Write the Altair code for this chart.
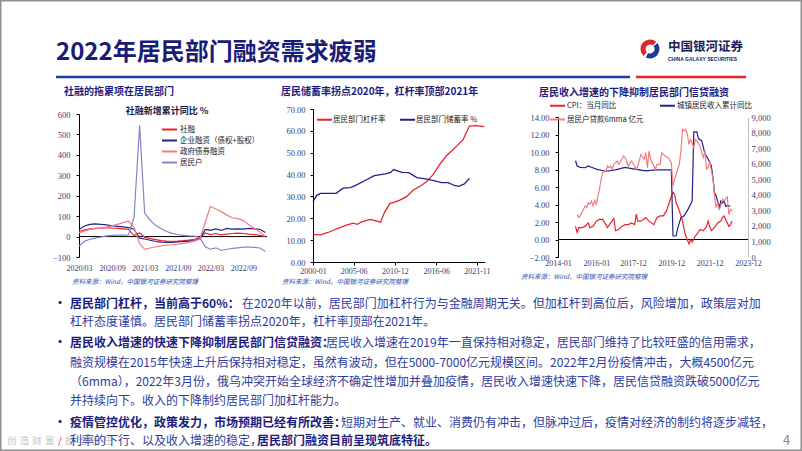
import altair as alt
import pandas as pd

CJK = "Noto Sans CJK SC"
AXF = "Liberation Serif"
AXC = "#3b3b6b"
NAVY = "#1c1c80"
REG = "#2d3c9e"
RED = "#e8232b"
DNAVY = "#22228a"
PINK = "#f27c80"
LAV = "#8585c8"
LINE_SYMBOL = "M-1.36,0H1.36"

# ---------------- chart 1 data: 社融新增累计同比 % ----------------
c1_names = ["社融", "企业融资（债权+股权）", "政府债券融资", "居民户"]
c1_colors = [RED, DNAVY, PINK, LAV]
c1_dates = pd.date_range("2020-03-01", "2023-01-01", freq="MS").strftime("%Y/%m/%d").tolist()
c1_shehui = [25, 33, 38, 40, 42, 43, 42, 40, 38, 35, 5, 18, -3, -10, -15, -20, -22, -23, -22, -20,
             -17, -13, -8, 18, 10, 15, 8, 12, 15, 17, 15, 12, 10, 6, 0]
c1_qiye = [35, 52, 60, 62, 60, 57, 53, 50, 47, 44, 36, -8, -12, -18, -24, -27, -28, -28, -26, -24,
           -22, -20, -12, 35, 30, 38, 30, 40, 36, 38, 36, 40, 38, 36, 20]
c1_zhengfu = [18, 28, 35, 40, 42, 46, 52, 60, 68, 76, 45, -35, -63, -56, -50, -46, -42, -40, -37, -33,
              -28, -22, -12, 70, 147, 135, 122, 105, 92, 88, 78, 58, 40, 22, 2]
c1_jumin = [-46, -22, -13, -8, -2, 3, 6, 7, 7, 8, 95, 545, 115, 80, 55, 38, 25, 16, 10, 6,
            3, 2, -5, -50, -62, -55, -68, -62, -58, -55, -52, -51, -53, -56, -72]
c1_xticks = [(2020, 3), (2020, 9), (2021, 3), (2021, 9), (2022, 3), (2022, 9)]
c1_yticks = [-100, 0, 100, 200, 300, 400, 500, 600]

# ---------------- chart 2 data ----------------
c2_names = ["居民部门杠杆率", "居民部门储蓄率 %"]
c2_colors = [RED, DNAVY]
c2_lev_dates = ["2000/01/01", "2001/01/01", "2002/01/01", "2003/03/01", "2004/04/01", "2005/05/01",
                "2005/12/01", "2006/06/01", "2007/08/01", "2008/04/01", "2009/01/01", "2009/07/01",
                "2010/04/01", "2010/11/01", "2011/07/01", "2012/06/01", "2013/05/01", "2014/06/01",
                "2015/03/01", "2016/01/01", "2016/11/01", "2017/10/01", "2018/11/01", "2020/01/01",
                "2020/11/01", "2021/10/01", "2022/11/01"]
c2_lev = [12.5, 12.4, 13.5, 15.2, 16.6, 17.8, 17.2, 18.2, 19.5, 18.9, 18.2, 22.5, 26.8, 27.4, 28.2,
          29.8, 32.8, 35.0, 36.8, 40.0, 44.4, 48.5, 52.0, 56.0, 62.2, 62.4, 61.9]
c2_sav_dates = ["2000/01/01", "2000/07/01", "2001/01/01", "2002/01/01", "2003/02/01", "2004/01/01",
                "2005/01/01", "2005/10/01", "2007/01/01", "2008/03/01", "2009/09/01", "2010/05/01",
                "2010/10/01", "2011/11/01", "2012/10/01", "2013/11/01", "2015/01/01", "2016/04/01",
                "2017/02/01", "2018/01/01", "2018/11/01", "2019/06/01", "2020/03/01", "2020/11/01"]
c2_sav = [27.6, 30.5, 31.4, 31.4, 31.4, 33.8, 34.0, 35.2, 37.4, 39.5, 40.3, 41.0, 42.3, 41.0, 40.9,
          38.6, 38.0, 37.1, 36.3, 36.3, 35.0, 34.6, 35.7, 38.3]
c2_xticks = [(2000, 1), (2005, 6), (2010, 12), (2016, 6), (2021, 11)]
c2_yticks = [0, 10, 20, 30, 40, 50, 60, 70]

# ---------------- chart 3 data ----------------
c3_names = ["CPI：当月同比", "城镇居民收入累计同比", "居民户贷款6mma 亿元"]
c3_colors = [RED, DNAVY, PINK]
c3_cpi_dates = ["2014/12", "2015/01", "2015/02", "2015/04", "2015/06", "2015/08", "2015/09", "2015/11",
                "2016/01", "2016/03", "2016/05", "2016/07", "2016/08", "2016/10", "2016/12", "2017/01",
                "2017/03", "2017/05", "2017/07", "2017/09", "2017/11", "2018/01", "2018/02", "2018/03",
                "2018/05", "2018/08", "2018/10", "2019/01", "2019/03", "2019/05", "2019/07", "2019/09",
                "2019/11", "2020/01", "2020/02", "2020/03", "2020/05", "2020/06", "2020/07", "2020/08",
                "2020/09", "2020/11", "2020/12", "2021/01", "2021/03", "2021/04", "2021/06", "2021/08",
                "2021/10", "2021/11", "2021/12", "2022/01", "2022/03", "2022/05", "2022/07", "2022/08",
                "2022/09", "2022/10", "2022/11", "2022/12", "2023/01", "2023/02"]
c3_cpi = [1.5, 0.8, 1.35, 1.35, 1.5, 1.9, 1.35, 1.5, 2.1, 2.3, 2.3, 1.7, 1.35, 1.9, 2.4, 1.0,
          1.15, 1.5, 1.7, 1.7, 1.9, 1.7, 2.9, 2.1, 2.1, 2.5, 2.1, 1.7, 2.5, 2.7, 2.7, 3.3,
          4.4, 5.4, 5.2, 4.2, 3.3, 2.7, 2.1, 1.15, 0.4, -0.5, 0.0, -0.3, 0.4, 0.6, 1.15, 1.0,
          1.5, 2.1, 1.5, 1.0, 1.35, 1.9, 2.1, 2.5, 2.7, 2.3, 1.9, 1.5, 1.7, 2.1]
c3_inc_dates = ["2014/12", "2015/01", "2015/03", "2015/06", "2015/08", "2015/10", "2016/01", "2016/07",
                "2017/01", "2017/07", "2018/01", "2018/08", "2019/02", "2019/12", "2020/01", "2020/03",
                "2020/04", "2020/06", "2020/08", "2020/10", "2021/01", "2021/02", "2021/04", "2021/05",
                "2021/07", "2021/09", "2021/11", "2022/01", "2022/02", "2022/03", "2022/04", "2022/05",
                "2022/06", "2022/07", "2022/08", "2022/09", "2022/10", "2022/11", "2023/01"]
c3_inc = [9.0, 8.4, 8.25, 8.2, 8.4, 8.25, 8.05, 7.8, 7.95, 8.25, 8.05, 7.85, 7.95, 7.95, 0.4, 0.4,
          1.3, 2.5, 2.7, 3.3, 4.4, 12.3, 12.3, 11.5, 11.3, 9.8, 9.2, 8.4, 7.1, 5.4, 5.0, 4.4,
          3.6, 4.4, 4.2, 4.4, 3.8, 3.9, 3.8]
c3_loan_dates = ["2015/01", "2015/02", "2015/04", "2015/05", "2015/06", "2015/07", "2015/08", "2015/09",
                 "2015/10", "2015/11", "2015/12", "2016/01", "2016/02", "2016/03", "2016/04", "2016/05",
                 "2016/07", "2016/08", "2016/09", "2016/10", "2016/11", "2016/12", "2017/02", "2017/03",
                 "2017/05", "2017/06", "2017/07", "2017/08", "2017/09", "2017/11", "2018/01", "2018/02",
                 "2018/03", "2018/05", "2018/07", "2018/08", "2018/09", "2018/10", "2018/11", "2019/01",
                 "2019/02", "2019/03", "2019/05", "2019/06", "2019/08", "2019/10", "2019/12", "2020/01",
                 "2020/02", "2020/03", "2020/05", "2020/06", "2020/07", "2020/08", "2020/09", "2020/10",
                 "2020/11", "2020/12", "2021/02", "2021/03", "2021/04", "2021/06", "2021/07", "2021/08",
                 "2021/09", "2021/10", "2021/11", "2021/12", "2022/01", "2022/02", "2022/03", "2022/04",
                 "2022/05", "2022/06", "2022/07", "2022/08", "2022/09", "2022/10", "2022/11", "2022/12",
                 "2023/01", "2023/02"]
c3_loan = [2740, 2530, 2850, 3060, 3280, 3170, 3490, 3390, 3600, 3280, 3640, 3390, 3920, 4350, 4990, 5420,
           5530, 5850, 5740, 5850, 5640, 5960, 6170, 5960, 6280, 6490, 6390, 6170, 5850, 6170, 5850, 5640,
           5850, 6600, 6280, 6710, 5740, 6810, 6280, 5850, 5640, 5960, 5960, 6710, 6490, 6390, 6060, 4560,
           4990, 5310, 5960, 6810, 8210, 8100, 8210, 7890, 7240, 7560, 7030, 7560, 7460, 7140, 6710, 6390,
           6810, 5640, 5740, 6170, 5530, 5100, 4030, 3170, 3490, 3060, 3280, 3710, 3600, 3750, 3860, 2740,
           3060, 2960]
c3_xticks = [(2014, 1), (2016, 1), (2017, 12), (2019, 12), (2021, 12), (2023, 12)]
c3_left_ticks = [-2, 0, 2, 4, 6, 8, 10, 12, 14]
c3_right_ticks = [0, 1000, 2000, 3000, 4000, 5000, 6000, 7000, 8000, 9000]

# ---------------- slide texts ----------------
title_text = "2022年居民部门融资需求疲弱"
chart_titles = ["社融的拖累项在居民部门", "居民储蓄率拐点2020年，杠杆率顶部2021年", "居民收入增速的下降抑制居民部门信贷融资"]
source_text = "资料来源：Wind，中国银河证券研究院整理"
SP = "\u2004"
footer_left = SP.join("创造财富")
footer_right = SP.join("担当责任")
body_lines = [
    # (x, y, text, bold)
    (54, 304, "•", True),
    (70, 304, "居民部门杠杆，当前高于60%：", True),
    (242, 304, "在2020年以前，居民部门加杠杆行为与金融周期无关。但加杠杆到高位后，风险增加，政策层对加", False),
    (70, 322, "杠杆态度谨慎。居民部门储蓄率拐点2020年，杠杆率顶部在2021年。", False),
    (54, 343, "•", True),
    (70, 343, "居民收入增速的快速下降抑制居民部门信贷融资：", True),
    (326, 343, "居民收入增速在2019年一直保持相对稳定，居民部门维持了比较旺盛的信用需求，", False),
    (70, 363, "融资规模在2015年快速上升后保持相对稳定，虽然有波动，但在5000-7000亿元规模区间。2022年2月份疫情冲击，大概4500亿元", False),
    (70, 382, "（6mma），2022年3月份，俄乌冲突开始全球经济不确定性增加并叠加疫情，居民收入增速快速下降，居民信贷融资跌破5000亿元", False),
    (70, 401, "并持续向下。收入的下降制约居民部门加杠杆能力。", False),
    (54, 423, "•", True),
    (70, 423, "疫情管控优化，政策发力，市场预期已经有所改善：", True),
    (341, 423, "短期对生产、就业、消费仍有冲击，但脉冲过后，疫情对经济的制约将逐步减轻，", False),
    (70, 441, "利率的下行、以及收入增速的稳定，", False),
    (257, 441, "居民部门融资目前呈现筑底特征。", True),
]

ONE = pd.DataFrame({"a": [0]})
ZERO = pd.DataFrame({"value": [0]})
T = 109  # page y of the top of the chart row


def txt(x, y, s, size, color, weight="normal", font=CJK, align="left", italic=False):
    kw = dict(text=s, fontSize=size, color=color, fontWeight=weight, font=font,
              align=align, baseline="middle")
    if italic:
        kw["fontStyle"] = "italic"
    return alt.Chart(ONE).mark_text(**kw).encode(x=alt.value(x), y=alt.value(y))


def ptxt(x, y, s, size, color, **kw):
    return txt(x, y - T, s, size, color, **kw)


def spacer(w, h):
    return alt.Chart(ONE).mark_point(opacity=0).encode(
        x=alt.value(0), y=alt.value(0)).properties(width=w, height=h)


def dt(y, m, d=1):
    return alt.DateTime(year=y, month=m, date=d)


def long_df(dates_list, values_list, names):
    frames = []
    for d, v, n in zip(dates_list, values_list, names):
        frames.append(pd.DataFrame({"date": d, "value": v, "series": n}))
    return pd.concat(frames, ignore_index=True)


def xaxis(ticks, fmt, domain=False, tick=False, pad=5):
    return alt.Axis(values=[dt(y, m) for y, m in ticks], format=fmt, domain=domain, ticks=tick,
                    tickSize=3, tickColor="black", domainColor="black", grid=False,
                    labelFont=AXF, labelFontSize=8, labelColor=AXC, labelPadding=pad,
                    labelFlush=False, labelOverlap=False, title=None)


def yaxis(ticks, fmt, orient="left", pad=5, tick=True, dcolor="black"):
    return alt.Axis(values=ticks, format=fmt, orient=orient, grid=False, domainColor=dcolor,
                    ticks=tick, tickColor="black", tickSize=3, labelPadding=pad,
                    labelFont=AXF, labelFontSize=8.5, labelColor=AXC, labelFlush=False,
                    labelOverlap=False, labelBound=False, title=None)


def line_legend(x, y, names, **kw):
    return alt.Legend(orient="none", legendX=x, legendY=y, title=None, symbolType=LINE_SYMBOL,
                      symbolStrokeWidth=2, symbolSize=121, labelFont=CJK, labelFontSize=7.5,
                      labelColor="#222222", padding=0, values=names, **kw)


# ---------------- chart 1 ----------------
H1 = 148
df1 = long_df([c1_dates] * 4, [c1_shehui, c1_qiye, c1_zhengfu, c1_jumin], c1_names)
leg1 = line_legend(84, 14, c1_names, rowPadding=0, labelOffset=4)
y1 = alt.Y("value:Q", scale=alt.Scale(domain=[-100, 600], nice=False, zero=False, range=[H1, 5]),
           axis=yaxis(c1_yticks, "d", pad=6))
lines1 = alt.Chart(df1).mark_line(strokeWidth=1.2).encode(
    x=alt.X("date:T", scale=alt.Scale(domain=[dt(2020, 3), dt(2023, 1, 10)]),
            axis=xaxis(c1_xticks, "%Y/%m", pad=7)),
    y=y1,
    color=alt.Color("series:N", scale=alt.Scale(domain=c1_names, range=c1_colors), legend=leg1),
)
zero1 = alt.Chart(ZERO).mark_rule(color="black", strokeWidth=1).encode(y=y1)
sub1 = txt(88, 2, "社融新增累计同比  %", 9, "#1a1a4a", weight="bold", align="center")
chart1 = alt.layer(zero1, lines1, sub1).properties(width=188, height=H1)

# ---------------- chart 2 ----------------
df2 = long_df([c2_lev_dates, c2_sav_dates], [c2_lev, c2_sav], c2_names)
leg2 = line_legend(5, 4, c2_names, direction="horizontal", columns=2, columnPadding=10, labelOffset=2)
chart2 = alt.Chart(df2).mark_line(strokeWidth=1.3).encode(
    x=alt.X("date:T", scale=alt.Scale(domain=[dt(2000, 1), dt(2022, 12)]),
            axis=xaxis(c2_xticks, "%Y-%m", domain=True, tick=True, pad=2)),
    y=alt.Y("value:Q", scale=alt.Scale(domain=[0, 70], nice=False),
            axis=yaxis(c2_yticks, ".2f", pad=5)),
    color=alt.Color("series:N", scale=alt.Scale(domain=c2_names, range=c2_colors), legend=leg2),
).properties(width=172, height=153)

# ---------------- chart 3 ----------------
H3 = 148
df3L = long_df([c3_cpi_dates, c3_inc_dates], [c3_cpi, c3_inc], c3_names[:2])
df3R = long_df([c3_loan_dates], [c3_loan], c3_names[2:])
leg3 = line_legend(-7, -10, c3_names, direction="horizontal", columns=2, columnPadding=12,
                   rowPadding=3, labelOffset=3)
col3 = alt.Color("series:N", scale=alt.Scale(domain=c3_names, range=c3_colors), legend=leg3)
x3 = alt.X("date:T", scale=alt.Scale(domain=[dt(2014, 1), dt(2023, 12)]),
           axis=xaxis(c3_xticks, "%Y-%m", pad=2))
y3L = alt.Y("value:Q", scale=alt.Scale(domain=[-2, 14], nice=False, zero=False, range=[H3, 8]),
            axis=yaxis(c3_left_ticks, ".2f", pad=6))
left3 = alt.Chart(df3L).mark_line(strokeWidth=1.2).encode(x=x3, y=y3L, color=col3)
zero3 = alt.Chart(ZERO).mark_rule(color="black", strokeWidth=1).encode(y=y3L)
right3 = alt.Chart(df3R).mark_line(strokeWidth=1.2).encode(
    x=x3,
    y=alt.Y("value:Q", scale=alt.Scale(domain=[0, 9000], nice=False, range=[H3, 8]),
            axis=yaxis(c3_right_ticks, ",d", orient="right", pad=3, tick=False, dcolor="#c8b8c8")),
    color=col3,
)
chart3 = alt.layer(alt.layer(zero3, left3), right3).resolve_scale(y="independent").properties(
    width=190, height=H3)

# ---------------- page layer (header, notes, body) ----------------
page_layers = [
    alt.Chart(ONE).mark_rect(fillOpacity=0, stroke="#8f8f8f", strokeWidth=1.5).encode(
        x=alt.value(0.75), x2=alt.value(801.25), y=alt.value(0.75 - T), y2=alt.value(450.25 - T)),
    ptxt(56, 53, title_text, 24, "#1b1b78", weight="bold"),
    alt.Chart(ONE).mark_rule(color="#1e3c96", strokeWidth=2.5).encode(
        x=alt.value(56), x2=alt.value(630), y=alt.value(77 - T)),
    alt.Chart(ONE).mark_rule(color="#e0262c", strokeWidth=2.5).encode(
        x=alt.value(636), x2=alt.value(746), y=alt.value(77 - T)),
    alt.Chart(ONE).mark_arc(color="#e0262c").encode(
        x=alt.value(650), y=alt.value(49 - T), theta=alt.value(3.9), theta2=alt.value(7.0),
        radius=alt.value(9.5), radius2=alt.value(4.5)),
    alt.Chart(ONE).mark_arc(color="#1e3c96").encode(
        x=alt.value(650), y=alt.value(49 - T), theta=alt.value(0.9), theta2=alt.value(3.6),
        radius=alt.value(9.5), radius2=alt.value(4.5)),
    ptxt(668, 47, "中国银河证券", 12.5, "#1b1b55", weight="bold"),
    ptxt(668, 59, "CHINA GALAXY SECURITIES", 5, "#1b1b55", weight="bold", font="Liberation Sans"),
    ptxt(64, 92, chart_titles[0], 10, NAVY, weight="bold"),
    ptxt(281, 92, chart_titles[1], 10, NAVY, weight="bold"),
    ptxt(539, 93, chart_titles[2], 10, NAVY, weight="bold"),
    ptxt(72, 282, source_text, 6.5, "#3055b0", italic=True),
    ptxt(282, 282, source_text, 6.5, "#3055b0", italic=True),
    ptxt(521, 277, source_text, 6.5, "#3055b0", italic=True),
    ptxt(7, 441, footer_left, 9.5, "#c4c4c4"),
    ptxt(58, 441, "/", 9.5, "#e0262c"),
    ptxt(65, 441, footer_right, 9.5, "#c4c4c4"),
    ptxt(783, 441, "4", 13, "#8a8a8a"),
]
for x, y, s, b in body_lines:
    page_layers.append(ptxt(x, y, s, 12, NAVY if b else REG, weight="bold" if b else "normal"))
page = alt.layer(*page_layers).properties(width=79, height=153)

chart = alt.hconcat(page, chart1, spacer(46, 1), chart2, spacer(73, 1), chart3, spacer(54, 1),
                    spacing=0, bounds="flush").resolve_scale(color="independent").resolve_legend(
    color="independent").properties(
    padding=0, background="white"
).configure_view(stroke=None).configure_axis(labelOverlap=False)

chart.save("out.html", embed_options={"renderer": "svg", "actions": False})
